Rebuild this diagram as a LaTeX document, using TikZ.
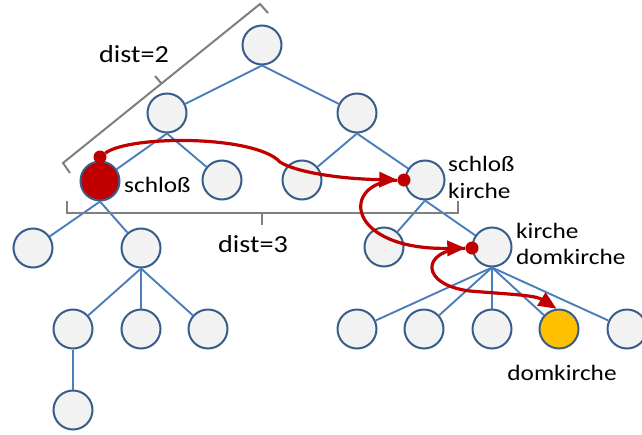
\documentclass[tikz,border=0pt]{standalone}
\usepackage{fontspec}
\setmainfont{Carlito}[FakeStretch=1.15]
\usepackage{xcolor}
\usepackage{tikz}
\usetikzlibrary{positioning,calc,arrows.meta}
\definecolor{nodeblue}{HTML}{385D8A}
\definecolor{nodegray}{HTML}{F2F2F2}
\definecolor{edgeblue}{HTML}{4A7EBB}
\definecolor{pathred}{HTML}{C00000}
\definecolor{dkyellow}{HTML}{FFC000}
\definecolor{bracegray}{HTML}{7F7F7F}

\begin{document}
\begin{tikzpicture}[x=1pt, y=-1pt,
    tn/.style={circle, draw=nodeblue, fill=nodegray, line width=2pt, minimum size=39pt, inner sep=0pt},
    edge/.style={draw=edgeblue, line width=1.9pt},
    dot/.style={circle, fill=pathred, minimum size=13pt, inner sep=0pt},
    walk/.style={draw=pathred, line width=3.2pt, -{Triangle[length=18pt,width=15pt]}},
    brace/.style={draw=bracegray, line width=2pt},
    lbl/.style={inner sep=0pt, font=\fontsize{22}{26.5}\selectfont, align=left},
    dlbl/.style={inner sep=0pt, font=\fontsize{24.5}{28}\selectfont}]
    \useasboundingbox (0,0) rectangle (642,434);

    % Tree nodes
    \node[tn] (r) at (262,45) {};
    \node[tn] (a) at (167,113) {};
    \node[tn] (b) at (357,113) {};
    \node[tn, fill=pathred] (s) at (100,181) {};
    \node[tn] (c) at (222,180) {};
    \node[tn] (d) at (302,180) {};
    \node[tn] (sk) at (425,180) {};
    \node[tn] (e) at (33,248) {};
    \node[tn] (f) at (141,248) {};
    \node[tn] (g) at (384,247) {};
    \node[tn] (kd) at (492,247) {};
    \node[tn] (h) at (73,329) {};
    \node[tn] (i) at (141,329) {};
    \node[tn] (j) at (208,329) {};
    \node[tn] (k) at (73,410) {};
    \node[tn] (m1) at (357,329) {};
    \node[tn] (m2) at (424,329) {};
    \node[tn] (m3) at (492,329) {};
    \node[tn, fill=dkyellow] (dk) at (559,329) {};
    \node[tn] (m5) at (627,329) {};

    % Tree edges
    \foreach \p/\c in {r/a, r/b, a/s, a/c, b/d, b/sk, s/e, s/f, f/h, f/i, f/j, h/k,
                       sk/g, sk/kd, kd/m1, kd/m2, kd/m3, kd/dk, kd/m5}
        \draw[edge] (\p.south) -- (\c);

    % Labels
    \node[lbl, anchor=base west] (slbl) at (124,192) {schloß};
    \node[lbl, anchor=base west] (sklbl) at (448,198) {schloß\\kirche};
    \node[lbl, anchor=base west] (kdlbl) at (516,264.5) {kirche\\domkirche};
    \node[lbl, anchor=base] (dklbl) at (562,380) {domkirche};

    % Brackets
    \draw[brace] (268,13) -- (260,4) -- (63,163) -- (70,173);
    \draw[brace] (161.5,83.5) -- (155,76);
    \node[dlbl, anchor=base] (d2lbl) at (134,62) {dist=2};
    \draw[brace] (67,201) -- (67,213) -- (458,213) -- (458,201);
    \draw[brace] (262,213) -- (262,225);
    \node[dlbl, anchor=base] (d3lbl) at (253,252) {dist=3};

    % Search path
    \node[dot] (p1) at (100,157) {};
    \node[dot] (p2) at (404,180) {};
    \node[dot] (p3) at (472,248) {};
    \coordinate (q1) at (280,162);
    \coordinate (q3) at (470,291);
    \draw[walk] (p1) .. controls (130,135) and (255,135) .. (q1)
        .. controls (295,172) and (340,179) .. (p2);
    \draw[walk] (p2) .. controls (340,182) and (345,250) .. (p3);
    \draw[walk] (p3) .. controls (420,250) and (420,285) .. (q3)
        .. controls (505,294) and (535,295) .. (dk.97);
\end{tikzpicture}
\end{document}
